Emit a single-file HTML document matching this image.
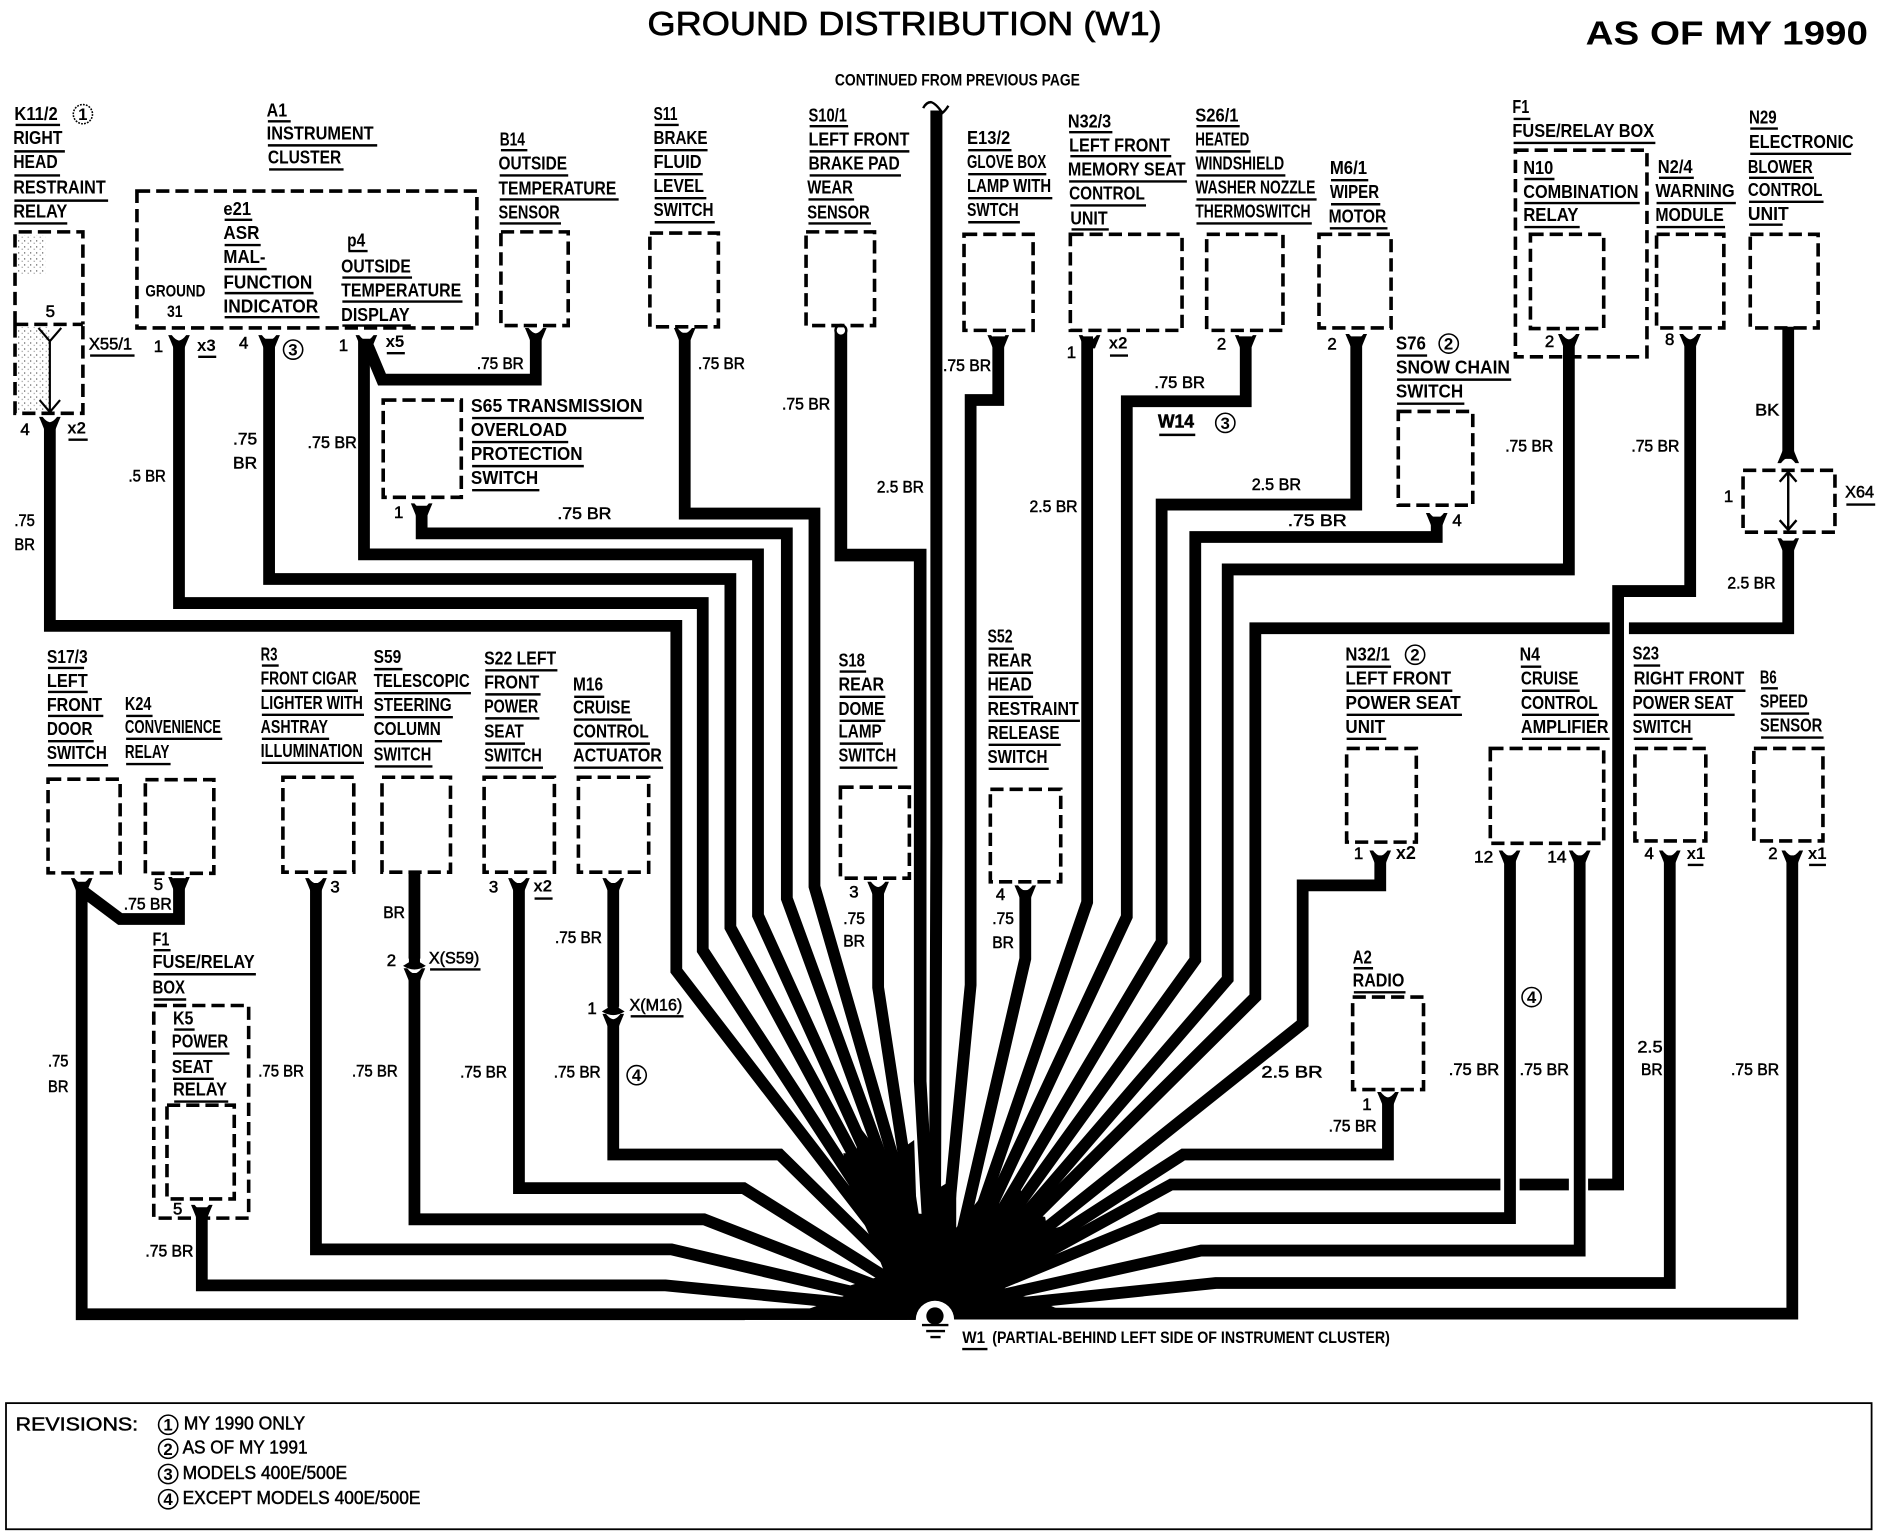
<!DOCTYPE html>
<html><head><meta charset="utf-8"><title>Ground Distribution (W1)</title>
<style>
html,body{margin:0;padding:0;background:#fff}
svg{display:block}
text{font-family:"Liberation Sans",sans-serif;font-weight:bold;font-size:15px;fill:#000;transform:translate(-1px,-1px)}
.s{font-size:14px}
.w{font-size:14px;font-weight:normal;stroke:#000;stroke-width:.45}
.r{font-size:15px;font-weight:normal;stroke:#000;stroke-width:.4}
.b{fill:none;stroke:#000;stroke-width:3;stroke-dasharray:11 5}
.wire{fill:none;stroke:#000;stroke-width:9.8;stroke-linejoin:miter;stroke-miterlimit:4}
.u{fill:none;stroke:#000;stroke-width:2}
.c{fill:#fff;stroke:#000;stroke-width:1.3}
</style></head><body>
<svg xmlns="http://www.w3.org/2000/svg" width="1880" height="1536" viewBox="0 0 1565 1278.6">
<defs>
<path id="f" d="M-9 0L-6 0Q-3 4 0 4.5Q3 4 6 0L9 0Q6 7 4.5 11H-4.5Q-6 7-9 0Z"/>
<path id="g" d="M-4.6 -12V-7L-9.5 -4Q0 2 9.5 -4L4.6 -7V-12Z"/>
<pattern id="d" width="5" height="5" patternUnits="userSpaceOnUse"><rect width="1" height="1" fill="#555"/><rect x="3" y="2" width="1" height="1" fill="#999"/></pattern>
</defs>
<rect width="1565" height="1278.6" fill="#fff"/>

<!-- shading -->
<rect x="14" y="196" width="24" height="32" fill="url(#d)"/>
<rect x="14" y="272" width="28" height="70" fill="url(#d)"/>

<!-- wires -->
<g class="wire">
<path class="wire" d="M41.5 352V521H563V808L780 1090"/>
<path class="wire" d="M149 285V502H585V791L780 1090"/>
<path class="wire" d="M224 282V482H608V772L780 1090"/>
<path class="wire" d="M303 282V461.5H631V762L780 1090"/>
<path class="wire" d="M446 278V316H318L305 285"/>
<path class="wire" d="M351 421V444H655V748L780 1090"/>
<path class="wire" d="M570 277V427.5H678V738L780 1090"/>
<path class="wire" style="stroke-width:10.5" d="M700 275V462H766V900L777 1090"/>
<path class="wire" style="stroke-width:10" d="M779.5 92V700L778 1090"/>
<path class="wire" d="M831 280V333H808V820L782 1090"/>
<path class="wire" d="M853.5 741V798L786 1090"/>
<path class="wire" d="M905 280V751L788 1090"/>
<path class="wire" d="M1037 280V334H938V763L785 1090"/>
<path class="wire" d="M1129 280V420H967V784L785 1090"/>
<path class="wire" d="M1196 430V447H995V799L785 1090"/>
<path class="wire" d="M1306 285V474H1022V815L785 1090"/>
<path class="wire" d="M1407 285V492H1347V986H1322M1306 986H1265M1249 986H975L785 1090"/>
<path class="wire" d="M1488.6 272V382M1488.6 450V523H1356M1340 523H1045V830L783 1090"/>
<path class="wire" d="M1149 712V737H1084.4V852L786 1090"/>
<path class="wire" d="M1155.4 914V961H985L785 1090"/>
<path class="wire" d="M1257 712V1014H965L780 1090"/>
<path class="wire" d="M1315 712V1041H1000L780 1090"/>
<path class="wire" d="M1390 712V1068H1012L780 1092"/>
<path class="wire" d="M1492 712V1093.5H780"/>
<path class="wire" d="M68 734V1094H780"/>
<path class="wire" d="M149 731V765H100L68 741"/>
<path class="wire" d="M168 1005V1070H554L780 1092"/>
<path class="wire" d="M263 735V1040H559L780 1092"/>
<path class="wire" d="M345 726V798M345 810V1015H586L780 1090"/>
<path class="wire" d="M432 735V989H619L780 1090"/>
<path class="wire" d="M510.5 735V838M510.5 850V961H649L780 1090"/>
<path class="wire" d="M731 739V822L772 1090"/>
</g>

<!-- hub core -->
<path d="M650 1098L702 1079L708 1070L737 1061L728 1038L708 993L702 960L713 960L714 936L737 966L761 949L763 1010L772 1011L783 988L796 980L796 1022L816 997L831 995L834 1022L848 986L857 1011L870 1013L872 1024L909 1014L853 1055L834 1075L861 1081L900 1098Z" fill="#000"/>

<!-- ground -->
<rect x="620" y="1098.8" width="320" height="30" fill="#fff"/>
<circle cx="778.3" cy="1098.8" r="16" fill="#fff"/>
<rect x="755" y="1098.8" width="50" height="20" fill="#fff"/>
<circle cx="778.3" cy="1095.5" r="7.2" fill="#000"/>
<path d="M767.5 1103H789.5M771 1108H786.7M774.5 1113H783" stroke="#000" stroke-width="2" fill="none"/>

<!-- forks -->
<use href="#f" x="41.5" y="347"/><use href="#f" x="149" y="279"/><use href="#f" x="224" y="279"/><use href="#f" x="305" y="279"/>
<use href="#f" x="446" y="273"/><use href="#f" x="570" y="273"/><use href="#f" x="351" y="419"/><use href="#f" x="831" y="279"/>
<use href="#f" x="907" y="279"/><use href="#f" x="1037" y="279"/><use href="#f" x="1129" y="278"/><use href="#f" x="1196" y="427"/>
<use href="#f" x="1306" y="278"/><use href="#f" x="1407" y="278"/><use href="#f" x="1488.6" y="448"/>
<use href="#f" x="68" y="731"/><use href="#f" x="149" y="730"/><use href="#f" x="263" y="731"/><use href="#f" x="432" y="731"/>
<use href="#f" x="510.5" y="731"/><use href="#f" x="731" y="734"/><use href="#f" x="853.5" y="737"/><use href="#f" x="1149" y="708"/>
<use href="#f" x="1256.6" y="708"/><use href="#f" x="1315" y="708"/><use href="#f" x="1390" y="708"/><use href="#f" x="1492" y="708"/>
<use href="#f" x="168" y="1003"/><use href="#f" x="1155.4" y="909"/>
<use href="#f" x="345" y="806"/><use href="#f" x="510.5" y="844"/>
<use href="#g" x="345" y="808"/><use href="#g" x="510.5" y="846"/>
<use href="#f" transform="translate(1488.6 385.5) scale(1 -1)"/>
<path d="M768.5 90Q771 85 775 85Q779 86 784.5 94Q787 92 789.5 88" fill="none" stroke="#000" stroke-width="2"/>
<circle cx="700" cy="275" r="4.5" fill="#fff" stroke="#000" stroke-width="2"/>

<!-- inner connector lines -->
<path d="M41.5 284V342M32 273L41.5 284L51 273M33 333L41.5 343L50 333" fill="none" stroke="#000" stroke-width="1.8"/>
<path d="M1488.6 393V441M1481.5 401L1488.6 393L1495.5 401M1481.5 433L1488.6 441L1495.5 433" fill="none" stroke="#000" stroke-width="2"/>

<!-- component boxes -->
<g>
<path class="b" d="M12.5 270V193H69V270M12.5 270V344H69V270M12.5 270H69"/>
<rect class="b" x="114" y="159" width="283" height="114"/>
<rect class="b" x="417" y="193" width="56" height="78"/>
<rect class="b" x="541" y="194" width="57" height="78"/>
<rect class="b" x="671" y="193" width="57" height="78"/>
<rect class="b" x="319" y="333" width="65" height="81"/>
<rect class="b" x="802.5" y="195" width="57.5" height="80"/>
<rect class="b" x="891" y="195" width="93" height="80"/>
<rect class="b" x="1004.5" y="195" width="63.5" height="80"/>
<rect class="b" x="1098" y="195" width="60" height="78"/>
<rect class="b" x="1164" y="342.5" width="62" height="78"/>
<rect class="b" x="1261.5" y="125" width="109.5" height="172"/>
<rect class="b" x="1274" y="195" width="61" height="78.5"/>
<rect class="b" x="1379" y="195" width="56" height="78"/>
<rect class="b" x="1457" y="195" width="56.5" height="78"/>
<rect class="b" x="1451" y="391.5" width="76.5" height="51.5"/>
<rect class="b" x="40" y="648.6" width="60" height="78"/>
<rect class="b" x="121" y="649" width="57" height="78"/>
<rect class="b" x="235.5" y="647" width="59" height="79"/>
<rect class="b" x="318" y="647" width="57" height="79"/>
<rect class="b" x="403" y="647" width="58.5" height="79"/>
<rect class="b" x="481.5" y="647" width="58.5" height="79"/>
<rect class="b" x="699.6" y="655.3" width="57.4" height="75.7"/>
<rect class="b" x="128" y="837" width="79" height="177"/>
<rect class="b" x="139" y="920" width="56" height="78"/>
<rect class="b" x="824.4" y="657" width="58.6" height="77"/>
<rect class="b" x="1121" y="623" width="58" height="78"/>
<rect class="b" x="1240.6" y="623" width="94.4" height="79"/>
<rect class="b" x="1361" y="623" width="59" height="77"/>
<rect class="b" x="1460" y="623" width="57.5" height="77"/>
<rect class="b" x="1126" y="830" width="59" height="77"/>
</g>

<!-- underlines -->
<path class="u" d="M13 104h37M12 126h42M12 146h38M12 167h78M12 186h44M223 101h19M223 121h91M224 141h62M417 125h22M416 146h57M416 166h99M416 186h51M545 104h20M545 125h44M545 145h40M545 165h43M545 185h50M674 105h32M674 126h83M674 146h76M673 166h38M673 186h52M187 183h23M187 204h30M187 224h35M187 244h74M187 264h79M290 209h16M285 231h58M285 251h100M285 271h57M75 296h37M57 366h16M165 297h15M322 294h15M393 348h143M393 368h80M393 388h93M393 408h56M806 125h36M806 145h65M806 165h70M806 185h43M890 110h36M891 130h84M890 151h98M891 171h63M892 191h31M996 105h36M996 126h45M996 146h74M996 166h100M996 186h96M1108 150h31M1108 170h41M1107 190h48M1163 296h25M1163 316h95M1163 336h56M1260 99h14M1260 119h118M1269 149h25M1269 169h96M1269 189h46M1381 148h29M1379 169h66M1379 189h57M1457 107h23M1457 128h84M1456 148h54M1456 168h62M1456 187h28M924 296h15M965 362h30"/>
<path class="u" d="M40 556h30M40 576h33M40 596h46M40 617h38M40 637h50M105 596h22M105 615h80M105 636h37M218 554h14M218 575h80M218 595h85M218 615h56M218 635h85M312 557h23M312 577h80M312 597h65M312 617h56M312 638h48M404 558h60M404 578h46M404 598h45M404 619h33M404 639h48M478 580h25M478 599h48M478 619h63M478 639h74M699 559h22M699 580h38M699 600h38M699 619h36M699 639h48M823 540h21M823 560h37M823 580h37M823 600h76M823 620h60M823 640h50M1121 555h37M1121 575h88M1121 595h96M1121 615h33M1266 555h17M1267 575h48M1267 595h64M1267 615h73M1360 554h22M1361 575h92M1360 595h84M1360 615h49M1466 573h14M1466 594h40M1466 614h52M128 791h14M128 811h85M128 832h27M145 857h17M144 877h47M144 898h34M145 917h45M358 807h42M445 748h15M525 846h44M1127 806h16M1127 826h43M1405 720h13M1506 720h14M1537 420h24M801 1123h21"/>

<!-- title -->
<text x="540" y="30" textLength="428" lengthAdjust="spacingAndGlyphs" style="font-size:28px;font-weight:normal;stroke:#000;stroke-width:.6">GROUND DISTRIBUTION (W1)</text>
<text x="1321" y="38" textLength="235" lengthAdjust="spacingAndGlyphs" style="font-size:28px">AS OF MY 1990</text>
<text x="696" y="72" textLength="204" lengthAdjust="spacingAndGlyphs" class="s">CONTINUED FROM PREVIOUS PAGE</text>

<!-- top labels -->
<text x="13" y="101" textLength="36" lengthAdjust="spacingAndGlyphs">K11/2</text>
<text x="12" y="121" textLength="41" lengthAdjust="spacingAndGlyphs">RIGHT</text>
<text x="12" y="141" textLength="37" lengthAdjust="spacingAndGlyphs">HEAD</text>
<text x="12" y="162" textLength="77" lengthAdjust="spacingAndGlyphs">RESTRAINT</text>
<text x="12" y="182" textLength="45" lengthAdjust="spacingAndGlyphs">RELAY</text>
<text x="223" y="98" textLength="17" lengthAdjust="spacingAndGlyphs">A1</text>
<text x="223" y="117" textLength="89" lengthAdjust="spacingAndGlyphs">INSTRUMENT</text>
<text x="224" y="137" textLength="61" lengthAdjust="spacingAndGlyphs">CLUSTER</text>
<text x="417" y="122" textLength="21" lengthAdjust="spacingAndGlyphs">B14</text>
<text x="416" y="142" textLength="57" lengthAdjust="spacingAndGlyphs">OUTSIDE</text>
<text x="416" y="163" textLength="98" lengthAdjust="spacingAndGlyphs">TEMPERATURE</text>
<text x="416" y="183" textLength="51" lengthAdjust="spacingAndGlyphs">SENSOR</text>
<text x="545" y="101" textLength="20" lengthAdjust="spacingAndGlyphs">S11</text>
<text x="545" y="121" textLength="45" lengthAdjust="spacingAndGlyphs">BRAKE</text>
<text x="545" y="141" textLength="40" lengthAdjust="spacingAndGlyphs">FLUID</text>
<text x="545" y="161" textLength="42" lengthAdjust="spacingAndGlyphs">LEVEL</text>
<text x="545" y="181" textLength="50" lengthAdjust="spacingAndGlyphs">SWITCH</text>
<text x="674" y="102" textLength="32" lengthAdjust="spacingAndGlyphs">S10/1</text>
<text x="674" y="122" textLength="84" lengthAdjust="spacingAndGlyphs">LEFT FRONT</text>
<text x="674" y="142" textLength="76" lengthAdjust="spacingAndGlyphs">BRAKE PAD</text>
<text x="673" y="162" textLength="38" lengthAdjust="spacingAndGlyphs">WEAR</text>
<text x="673" y="183" textLength="52" lengthAdjust="spacingAndGlyphs">SENSOR</text>
<text x="187" y="180" textLength="23" lengthAdjust="spacingAndGlyphs">e21</text>
<text x="187" y="200" textLength="30" lengthAdjust="spacingAndGlyphs">ASR</text>
<text x="187" y="220" textLength="35" lengthAdjust="spacingAndGlyphs">MAL-</text>
<text x="187" y="241" textLength="74" lengthAdjust="spacingAndGlyphs">FUNCTION</text>
<text x="187" y="261" textLength="79" lengthAdjust="spacingAndGlyphs">INDICATOR</text>
<text x="290" y="206" textLength="15" lengthAdjust="spacingAndGlyphs">p4</text>
<text x="285" y="228" textLength="58" lengthAdjust="spacingAndGlyphs">OUTSIDE</text>
<text x="285" y="248" textLength="100" lengthAdjust="spacingAndGlyphs">TEMPERATURE</text>
<text x="285" y="268" textLength="57" lengthAdjust="spacingAndGlyphs">DISPLAY</text>
<text x="122" y="248" textLength="50" lengthAdjust="spacingAndGlyphs" class="s">GROUND</text>
<text x="140" y="265" textLength="13" lengthAdjust="spacingAndGlyphs" class="s">31</text>
<text x="75" y="292" textLength="36" lengthAdjust="spacingAndGlyphs" class="w">X55/1</text>
<text x="393" y="344" textLength="143" lengthAdjust="spacingAndGlyphs">S65 TRANSMISSION</text>
<text x="393" y="364" textLength="80" lengthAdjust="spacingAndGlyphs">OVERLOAD</text>
<text x="393" y="384" textLength="93" lengthAdjust="spacingAndGlyphs">PROTECTION</text>
<text x="393" y="404" textLength="56" lengthAdjust="spacingAndGlyphs">SWITCH</text>
<text x="806" y="121" textLength="36" lengthAdjust="spacingAndGlyphs">E13/2</text>
<text x="806" y="141" textLength="66" lengthAdjust="spacingAndGlyphs">GLOVE BOX</text>
<text x="806" y="161" textLength="70" lengthAdjust="spacingAndGlyphs">LAMP WITH</text>
<text x="806" y="181" textLength="43" lengthAdjust="spacingAndGlyphs">SWTCH</text>
<text x="890" y="107" textLength="36" lengthAdjust="spacingAndGlyphs">N32/3</text>
<text x="891" y="127" textLength="84" lengthAdjust="spacingAndGlyphs">LEFT FRONT</text>
<text x="890" y="147" textLength="98" lengthAdjust="spacingAndGlyphs">MEMORY SEAT</text>
<text x="891" y="167" textLength="63" lengthAdjust="spacingAndGlyphs">CONTROL</text>
<text x="892" y="188" textLength="31" lengthAdjust="spacingAndGlyphs">UNIT</text>
<text x="996" y="102" textLength="36" lengthAdjust="spacingAndGlyphs">S26/1</text>
<text x="996" y="122" textLength="45" lengthAdjust="spacingAndGlyphs">HEATED</text>
<text x="996" y="142" textLength="74" lengthAdjust="spacingAndGlyphs">WINDSHIELD</text>
<text x="996" y="162" textLength="100" lengthAdjust="spacingAndGlyphs">WASHER NOZZLE</text>
<text x="996" y="182" textLength="96" lengthAdjust="spacingAndGlyphs">THERMOSWITCH</text>
<text x="1108" y="146" textLength="31" lengthAdjust="spacingAndGlyphs">M6/1</text>
<text x="1108" y="166" textLength="41" lengthAdjust="spacingAndGlyphs">WIPER</text>
<text x="1107" y="186" textLength="48" lengthAdjust="spacingAndGlyphs">MOTOR</text>
<text x="1163" y="292" textLength="25" lengthAdjust="spacingAndGlyphs">S76</text>
<text x="1163" y="312" textLength="95" lengthAdjust="spacingAndGlyphs">SNOW CHAIN</text>
<text x="1163" y="332" textLength="56" lengthAdjust="spacingAndGlyphs">SWITCH</text>
<text x="1260" y="95" textLength="14" lengthAdjust="spacingAndGlyphs">F1</text>
<text x="1260" y="115" textLength="118" lengthAdjust="spacingAndGlyphs">FUSE/RELAY BOX</text>
<text x="1269" y="146" textLength="25" lengthAdjust="spacingAndGlyphs">N10</text>
<text x="1269" y="166" textLength="96" lengthAdjust="spacingAndGlyphs">COMBINATION</text>
<text x="1269" y="185" textLength="46" lengthAdjust="spacingAndGlyphs">RELAY</text>
<text x="1381" y="145" textLength="29" lengthAdjust="spacingAndGlyphs">N2/4</text>
<text x="1379" y="165" textLength="66" lengthAdjust="spacingAndGlyphs">WARNING</text>
<text x="1379" y="185" textLength="57" lengthAdjust="spacingAndGlyphs">MODULE</text>
<text x="1457" y="104" textLength="23" lengthAdjust="spacingAndGlyphs">N29</text>
<text x="1457" y="124" textLength="87" lengthAdjust="spacingAndGlyphs">ELECTRONIC</text>
<text x="1456" y="145" textLength="54" lengthAdjust="spacingAndGlyphs">BLOWER</text>
<text x="1456" y="164" textLength="62" lengthAdjust="spacingAndGlyphs">CONTROL</text>
<text x="1456" y="184" textLength="34" lengthAdjust="spacingAndGlyphs">UNIT</text>

<!-- lower labels -->
<text x="40" y="553" textLength="34" lengthAdjust="spacingAndGlyphs">S17/3</text>
<text x="40" y="573" textLength="34" lengthAdjust="spacingAndGlyphs">LEFT</text>
<text x="40" y="593" textLength="46" lengthAdjust="spacingAndGlyphs">FRONT</text>
<text x="40" y="613" textLength="38" lengthAdjust="spacingAndGlyphs">DOOR</text>
<text x="40" y="633" textLength="50" lengthAdjust="spacingAndGlyphs">SWITCH</text>
<text x="105" y="592" textLength="22" lengthAdjust="spacingAndGlyphs">K24</text>
<text x="105" y="611" textLength="80" lengthAdjust="spacingAndGlyphs">CONVENIENCE</text>
<text x="105" y="632" textLength="37" lengthAdjust="spacingAndGlyphs">RELAY</text>
<text x="218" y="551" textLength="14" lengthAdjust="spacingAndGlyphs">R3</text>
<text x="218" y="571" textLength="80" lengthAdjust="spacingAndGlyphs">FRONT CIGAR</text>
<text x="218" y="591" textLength="85" lengthAdjust="spacingAndGlyphs">LIGHTER WITH</text>
<text x="218" y="611" textLength="56" lengthAdjust="spacingAndGlyphs">ASHTRAY</text>
<text x="218" y="631" textLength="85" lengthAdjust="spacingAndGlyphs">ILLUMINATION</text>
<text x="312" y="553" textLength="23" lengthAdjust="spacingAndGlyphs">S59</text>
<text x="312" y="573" textLength="80" lengthAdjust="spacingAndGlyphs">TELESCOPIC</text>
<text x="312" y="593" textLength="65" lengthAdjust="spacingAndGlyphs">STEERING</text>
<text x="312" y="613" textLength="56" lengthAdjust="spacingAndGlyphs">COLUMN</text>
<text x="312" y="634" textLength="48" lengthAdjust="spacingAndGlyphs">SWITCH</text>
<text x="404" y="554" textLength="60" lengthAdjust="spacingAndGlyphs">S22 LEFT</text>
<text x="404" y="574" textLength="46" lengthAdjust="spacingAndGlyphs">FRONT</text>
<text x="404" y="594" textLength="45" lengthAdjust="spacingAndGlyphs">POWER</text>
<text x="404" y="615" textLength="33" lengthAdjust="spacingAndGlyphs">SEAT</text>
<text x="404" y="635" textLength="48" lengthAdjust="spacingAndGlyphs">SWITCH</text>
<text x="478" y="576" textLength="25" lengthAdjust="spacingAndGlyphs">M16</text>
<text x="478" y="595" textLength="48" lengthAdjust="spacingAndGlyphs">CRUISE</text>
<text x="478" y="615" textLength="63" lengthAdjust="spacingAndGlyphs">CONTROL</text>
<text x="478" y="635" textLength="74" lengthAdjust="spacingAndGlyphs">ACTUATOR</text>
<text x="699" y="556" textLength="22" lengthAdjust="spacingAndGlyphs">S18</text>
<text x="699" y="576" textLength="38" lengthAdjust="spacingAndGlyphs">REAR</text>
<text x="699" y="596" textLength="38" lengthAdjust="spacingAndGlyphs">DOME</text>
<text x="699" y="615" textLength="36" lengthAdjust="spacingAndGlyphs">LAMP</text>
<text x="699" y="635" textLength="48" lengthAdjust="spacingAndGlyphs">SWITCH</text>
<text x="823" y="536" textLength="21" lengthAdjust="spacingAndGlyphs">S52</text>
<text x="823" y="556" textLength="37" lengthAdjust="spacingAndGlyphs">REAR</text>
<text x="823" y="576" textLength="37" lengthAdjust="spacingAndGlyphs">HEAD</text>
<text x="823" y="596" textLength="76" lengthAdjust="spacingAndGlyphs">RESTRAINT</text>
<text x="823" y="616" textLength="60" lengthAdjust="spacingAndGlyphs">RELEASE</text>
<text x="823" y="636" textLength="50" lengthAdjust="spacingAndGlyphs">SWITCH</text>
<text x="1121" y="551" textLength="37" lengthAdjust="spacingAndGlyphs">N32/1</text>
<text x="1121" y="571" textLength="88" lengthAdjust="spacingAndGlyphs">LEFT FRONT</text>
<text x="1121" y="591" textLength="96" lengthAdjust="spacingAndGlyphs">POWER SEAT</text>
<text x="1121" y="611" textLength="33" lengthAdjust="spacingAndGlyphs">UNIT</text>
<text x="1266" y="551" textLength="17" lengthAdjust="spacingAndGlyphs">N4</text>
<text x="1267" y="571" textLength="48" lengthAdjust="spacingAndGlyphs">CRUISE</text>
<text x="1267" y="591" textLength="64" lengthAdjust="spacingAndGlyphs">CONTROL</text>
<text x="1267" y="611" textLength="73" lengthAdjust="spacingAndGlyphs">AMPLIFIER</text>
<text x="1360" y="550" textLength="22" lengthAdjust="spacingAndGlyphs">S23</text>
<text x="1361" y="571" textLength="92" lengthAdjust="spacingAndGlyphs">RIGHT FRONT</text>
<text x="1360" y="591" textLength="84" lengthAdjust="spacingAndGlyphs">POWER SEAT</text>
<text x="1360" y="611" textLength="49" lengthAdjust="spacingAndGlyphs">SWITCH</text>
<text x="1466" y="570" textLength="14" lengthAdjust="spacingAndGlyphs">B6</text>
<text x="1466" y="590" textLength="40" lengthAdjust="spacingAndGlyphs">SPEED</text>
<text x="1466" y="610" textLength="52" lengthAdjust="spacingAndGlyphs">SENSOR</text>
<text x="128" y="788" textLength="14" lengthAdjust="spacingAndGlyphs">F1</text>
<text x="128" y="807" textLength="85" lengthAdjust="spacingAndGlyphs">FUSE/RELAY</text>
<text x="128" y="828" textLength="27" lengthAdjust="spacingAndGlyphs">BOX</text>
<text x="145" y="854" textLength="17" lengthAdjust="spacingAndGlyphs">K5</text>
<text x="144" y="873" textLength="47" lengthAdjust="spacingAndGlyphs">POWER</text>
<text x="144" y="894" textLength="34" lengthAdjust="spacingAndGlyphs">SEAT</text>
<text x="145" y="913" textLength="45" lengthAdjust="spacingAndGlyphs">RELAY</text>
<text x="1127" y="803" textLength="16" lengthAdjust="spacingAndGlyphs">A2</text>
<text x="1127" y="822" textLength="43" lengthAdjust="spacingAndGlyphs">RADIO</text>

<!-- wire labels -->
<g class="w">
<text class="w" x="398" y="308" textLength="39" lengthAdjust="spacingAndGlyphs">.75 BR</text>
<text class="w" x="582" y="308" textLength="39" lengthAdjust="spacingAndGlyphs">.75 BR</text>
<text class="w" x="652" y="342" textLength="40" lengthAdjust="spacingAndGlyphs">.75 BR</text>
<text class="w" x="465" y="433" textLength="45" lengthAdjust="spacingAndGlyphs">.75 BR</text>
<text class="w" x="108" y="402" textLength="31" lengthAdjust="spacingAndGlyphs">.5 BR</text>
<text class="w" x="195" y="371" textLength="20" lengthAdjust="spacingAndGlyphs">.75</text>
<text class="w" x="195" y="391" textLength="20" lengthAdjust="spacingAndGlyphs">BR</text>
<text class="w" x="257" y="374" textLength="41" lengthAdjust="spacingAndGlyphs">.75 BR</text>
<text class="w" x="13" y="439" textLength="17" lengthAdjust="spacingAndGlyphs">.75</text>
<text class="w" x="13" y="459" textLength="17" lengthAdjust="spacingAndGlyphs">BR</text>
<text class="w" x="731" y="411" textLength="39" lengthAdjust="spacingAndGlyphs">2.5 BR</text>
<text class="w" x="786" y="310" textLength="40" lengthAdjust="spacingAndGlyphs">.75 BR</text>
<text class="w" x="962" y="324" textLength="42" lengthAdjust="spacingAndGlyphs">.75 BR</text>
<text class="w" x="858" y="427" textLength="40" lengthAdjust="spacingAndGlyphs">2.5 BR</text>
<text class="w" x="1043" y="409" textLength="41" lengthAdjust="spacingAndGlyphs">2.5 BR</text>
<text class="w" x="1073" y="439" textLength="49" lengthAdjust="spacingAndGlyphs">.75 BR</text>
<text class="w" x="1254" y="377" textLength="40" lengthAdjust="spacingAndGlyphs">.75 BR</text>
<text class="w" x="1359" y="377" textLength="40" lengthAdjust="spacingAndGlyphs">.75 BR</text>
<text class="w" x="1462" y="347" textLength="20" lengthAdjust="spacingAndGlyphs">BK</text>
<text class="w" x="1439" y="491" textLength="40" lengthAdjust="spacingAndGlyphs">2.5 BR</text>
<text class="w" x="104" y="758" textLength="40" lengthAdjust="spacingAndGlyphs">.75 BR</text>
<text class="w" x="122" y="1047" textLength="40" lengthAdjust="spacingAndGlyphs">.75 BR</text>
<text class="w" x="41" y="889" textLength="17" lengthAdjust="spacingAndGlyphs">.75</text>
<text class="w" x="41" y="910" textLength="17" lengthAdjust="spacingAndGlyphs">BR</text>
<text class="w" x="216" y="897" textLength="38" lengthAdjust="spacingAndGlyphs">.75 BR</text>
<text class="w" x="294" y="897" textLength="38" lengthAdjust="spacingAndGlyphs">.75 BR</text>
<text class="w" x="384" y="898" textLength="39" lengthAdjust="spacingAndGlyphs">.75 BR</text>
<text class="w" x="462" y="898" textLength="39" lengthAdjust="spacingAndGlyphs">.75 BR</text>
<text class="w" x="320" y="765" textLength="18" lengthAdjust="spacingAndGlyphs">BR</text>
<text class="w" x="463" y="786" textLength="39" lengthAdjust="spacingAndGlyphs">.75 BR</text>
<text class="w" x="358" y="803" textLength="42" lengthAdjust="spacingAndGlyphs">X(S59)</text>
<text class="w" x="525" y="842" textLength="44" lengthAdjust="spacingAndGlyphs">X(M16)</text>
<text class="w" x="703" y="770" textLength="18" lengthAdjust="spacingAndGlyphs">.75</text>
<text class="w" x="703" y="789" textLength="18" lengthAdjust="spacingAndGlyphs">BR</text>
<text class="w" x="827" y="770" textLength="18" lengthAdjust="spacingAndGlyphs">.75</text>
<text class="w" x="827" y="790" textLength="18" lengthAdjust="spacingAndGlyphs">BR</text>
<text class="w" x="1107" y="943" textLength="40" lengthAdjust="spacingAndGlyphs">.75 BR</text>
<text class="w" x="1051" y="898" textLength="51" lengthAdjust="spacingAndGlyphs">2.5 BR</text>
<text class="w" x="1207" y="896" textLength="42" lengthAdjust="spacingAndGlyphs">.75 BR</text>
<text class="w" x="1266" y="896" textLength="41" lengthAdjust="spacingAndGlyphs">.75 BR</text>
<text class="w" x="1364" y="877" textLength="21" lengthAdjust="spacingAndGlyphs">2.5</text>
<text class="w" x="1367" y="896" textLength="18" lengthAdjust="spacingAndGlyphs">BR</text>
<text class="w" x="1442" y="896" textLength="40" lengthAdjust="spacingAndGlyphs">.75 BR</text>
<text class="w" x="1537" y="415" textLength="24" lengthAdjust="spacingAndGlyphs">X64</text>
<text x="965" y="357" textLength="30" lengthAdjust="spacingAndGlyphs">W14</text>
</g>

<!-- pin numbers -->
<text class="w" x="39" y="265">5</text>
<text class="w" x="18" y="363">4</text>
<text class="s" x="57" y="362">x2</text>
<text class="w" x="129" y="294">1</text>
<text class="s" x="165" y="293">x3</text>
<text class="w" x="200" y="291">4</text>
<text class="w" x="283" y="293">1</text>
<text class="s" x="322" y="290">x5</text>
<text class="w" x="329" y="432">1</text>
<text class="s" x="924" y="291">x2</text>
<text class="w" x="889" y="299">1</text>
<text class="w" x="1014" y="292">2</text>
<text class="w" x="1106" y="292">2</text>
<text class="w" x="1210" y="439">4</text>
<text class="w" x="1287" y="290">2</text>
<text class="w" x="1387" y="288">8</text>
<text class="w" x="1436" y="419">1</text>
<text class="w" x="129" y="742">5</text>
<text class="w" x="145" y="1012">5</text>
<text class="w" x="276" y="744">3</text>
<text class="w" x="323" y="805">2</text>
<text class="w" x="408" y="744">3</text>
<text class="s" x="445" y="743">x2</text>
<text class="w" x="490" y="845">1</text>
<text class="w" x="708" y="748">3</text>
<text class="w" x="830" y="750">4</text>
<text class="w" x="1128" y="716">1</text>
<text class="s" x="1163" y="716" style="font-size:15px">x2</text>
<text class="w" x="1135" y="925">1</text>
<text class="w" x="1228" y="719" textLength="16" lengthAdjust="spacingAndGlyphs">12</text>
<text class="w" x="1289" y="719" textLength="16" lengthAdjust="spacingAndGlyphs">14</text>
<text class="w" x="1370" y="716">4</text>
<text class="s" x="1405" y="716">x1</text>
<text class="w" x="1473" y="716">2</text>
<text class="s" x="1506" y="716">x1</text>

<!-- revision circles -->
<g>
<circle class="c" cx="69" cy="95" r="8" stroke-dasharray="1.5 1"/><text class="s" x="66" y="101">1</text>
<circle class="c" cx="244" cy="291" r="8"/><text class="s" x="241" y="297">3</text>
<circle class="c" cx="1020" cy="352" r="8"/><text class="s" x="1017" y="358">3</text>
<circle class="c" cx="1206" cy="286" r="8"/><text class="s" x="1203" y="292">2</text>
<circle class="c" cx="1178" cy="545" r="8"/><text class="s" x="1175" y="551">2</text>
<circle class="c" cx="530" cy="895" r="8"/><text class="s" x="527" y="901">4</text>
<circle class="c" cx="1275" cy="830" r="8"/><text class="s" x="1272" y="836">4</text>
</g>

<!-- W1 -->
<text x="802" y="1119" textLength="19" lengthAdjust="spacingAndGlyphs" class="s">W1</text>
<text x="827" y="1119" textLength="331" lengthAdjust="spacingAndGlyphs" class="s">(PARTIAL-BEHIND LEFT SIDE OF INSTRUMENT CLUSTER)</text>

<!-- revisions box -->
<rect x="5" y="1168" width="1553" height="105" fill="none" stroke="#000" stroke-width="1.5"/>
<text class="r" x="14" y="1192" textLength="102" lengthAdjust="spacingAndGlyphs">REVISIONS:</text>
<circle class="c" cx="140" cy="1186" r="8"/><text class="s" x="137" y="1192">1</text>
<circle class="c" cx="140" cy="1206" r="8"/><text class="s" x="137" y="1212">2</text>
<circle class="c" cx="140" cy="1227" r="8"/><text class="s" x="137" y="1233">3</text>
<circle class="c" cx="140" cy="1248" r="8"/><text class="s" x="137" y="1254">4</text>
<text class="r" x="154" y="1191" textLength="101" lengthAdjust="spacingAndGlyphs">MY 1990 ONLY</text>
<text class="r" x="153" y="1211" textLength="104" lengthAdjust="spacingAndGlyphs">AS OF MY 1991</text>
<text class="r" x="153" y="1232" textLength="137" lengthAdjust="spacingAndGlyphs">MODELS 400E/500E</text>
<text class="r" x="153" y="1253" textLength="198" lengthAdjust="spacingAndGlyphs">EXCEPT MODELS 400E/500E</text>
</svg>
</body></html>
